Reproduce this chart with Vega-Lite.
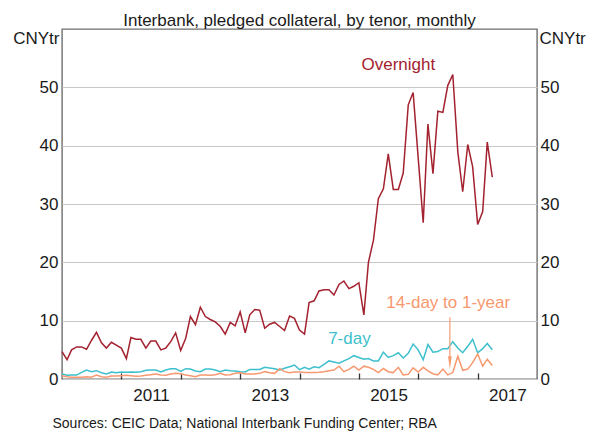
{
  "$schema": "https://vega.github.io/schema/vega-lite/v6.json",
  "width": 475,
  "height": 350,
  "autosize": {"type": "none"},
  "padding": {"left": 62, "top": 29, "right": 62, "bottom": 55},
  "background": "white",
  "config": {"font": "Liberation Sans", "view": {"stroke": "#6f6f6f", "strokeWidth": 1.4}},
  "title": {"text": "Interbank, pledged collateral, by tenor, monthly", "fontSize": 17, "fontWeight": "normal", "color": "#1a1a1a", "baseline": "alphabetic", "offset": -14, "anchor": "middle"},
  "datasets": {
    "series": [
      {"date":"2010-01-01","series":"Overnight","value":4.7},{"date":"2010-02-01","series":"Overnight","value":3.3},{"date":"2010-03-01","series":"Overnight","value":5.0},{"date":"2010-04-01","series":"Overnight","value":5.5},{"date":"2010-05-01","series":"Overnight","value":5.5},{"date":"2010-06-01","series":"Overnight","value":5.1},{"date":"2010-07-01","series":"Overnight","value":6.6},{"date":"2010-08-01","series":"Overnight","value":8.0},{"date":"2010-09-01","series":"Overnight","value":6.2},{"date":"2010-10-01","series":"Overnight","value":5.3},{"date":"2010-11-01","series":"Overnight","value":6.3},{"date":"2010-12-01","series":"Overnight","value":5.8},
      {"date":"2011-01-01","series":"Overnight","value":5.3},{"date":"2011-02-01","series":"Overnight","value":3.5},{"date":"2011-03-01","series":"Overnight","value":7.1},{"date":"2011-04-01","series":"Overnight","value":6.8},{"date":"2011-05-01","series":"Overnight","value":6.8},{"date":"2011-06-01","series":"Overnight","value":5.3},{"date":"2011-07-01","series":"Overnight","value":6.5},{"date":"2011-08-01","series":"Overnight","value":6.5},{"date":"2011-09-01","series":"Overnight","value":5.0},{"date":"2011-10-01","series":"Overnight","value":5.3},{"date":"2011-11-01","series":"Overnight","value":6.4},{"date":"2011-12-01","series":"Overnight","value":7.9},
      {"date":"2012-01-01","series":"Overnight","value":4.9},{"date":"2012-02-01","series":"Overnight","value":7.0},{"date":"2012-03-01","series":"Overnight","value":10.7},{"date":"2012-04-01","series":"Overnight","value":9.3},{"date":"2012-05-01","series":"Overnight","value":12.3},{"date":"2012-06-01","series":"Overnight","value":10.7},{"date":"2012-07-01","series":"Overnight","value":10.2},{"date":"2012-08-01","series":"Overnight","value":9.8},{"date":"2012-09-01","series":"Overnight","value":9.0},{"date":"2012-10-01","series":"Overnight","value":7.7},{"date":"2012-11-01","series":"Overnight","value":9.7},{"date":"2012-12-01","series":"Overnight","value":9.1},
      {"date":"2013-01-01","series":"Overnight","value":11.5},{"date":"2013-02-01","series":"Overnight","value":7.9},{"date":"2013-03-01","series":"Overnight","value":11.0},{"date":"2013-04-01","series":"Overnight","value":11.9},{"date":"2013-05-01","series":"Overnight","value":11.8},{"date":"2013-06-01","series":"Overnight","value":8.7},{"date":"2013-07-01","series":"Overnight","value":9.4},{"date":"2013-08-01","series":"Overnight","value":9.7},{"date":"2013-09-01","series":"Overnight","value":9.0},{"date":"2013-10-01","series":"Overnight","value":8.3},{"date":"2013-11-01","series":"Overnight","value":10.8},{"date":"2013-12-01","series":"Overnight","value":10.4},
      {"date":"2014-01-01","series":"Overnight","value":8.4},{"date":"2014-02-01","series":"Overnight","value":7.7},{"date":"2014-03-01","series":"Overnight","value":13.1},{"date":"2014-04-01","series":"Overnight","value":13.4},{"date":"2014-05-01","series":"Overnight","value":15.1},{"date":"2014-06-01","series":"Overnight","value":15.3},{"date":"2014-07-01","series":"Overnight","value":15.3},{"date":"2014-08-01","series":"Overnight","value":14.4},{"date":"2014-09-01","series":"Overnight","value":16.2},{"date":"2014-10-01","series":"Overnight","value":16.8},{"date":"2014-11-01","series":"Overnight","value":15.5},{"date":"2014-12-01","series":"Overnight","value":15.9},
      {"date":"2015-01-01","series":"Overnight","value":16.5},{"date":"2015-02-01","series":"Overnight","value":11.0},{"date":"2015-03-01","series":"Overnight","value":20.0},{"date":"2015-04-01","series":"Overnight","value":23.8},{"date":"2015-05-01","series":"Overnight","value":30.9},{"date":"2015-06-01","series":"Overnight","value":32.6},{"date":"2015-07-01","series":"Overnight","value":38.6},{"date":"2015-08-01","series":"Overnight","value":32.5},{"date":"2015-09-01","series":"Overnight","value":32.5},{"date":"2015-10-01","series":"Overnight","value":35.3},{"date":"2015-11-01","series":"Overnight","value":47.0},{"date":"2015-12-01","series":"Overnight","value":49.1},
      {"date":"2016-01-01","series":"Overnight","value":38.0},{"date":"2016-02-01","series":"Overnight","value":26.8},{"date":"2016-03-01","series":"Overnight","value":43.7},{"date":"2016-04-01","series":"Overnight","value":35.2},{"date":"2016-05-01","series":"Overnight","value":45.9},{"date":"2016-06-01","series":"Overnight","value":45.7},{"date":"2016-07-01","series":"Overnight","value":50.3},{"date":"2016-08-01","series":"Overnight","value":52.2},{"date":"2016-09-01","series":"Overnight","value":38.9},{"date":"2016-10-01","series":"Overnight","value":32.1},{"date":"2016-11-01","series":"Overnight","value":40.2},{"date":"2016-12-01","series":"Overnight","value":36.4},
      {"date":"2017-01-01","series":"Overnight","value":26.5},{"date":"2017-02-01","series":"Overnight","value":28.7},{"date":"2017-03-01","series":"Overnight","value":40.6},{"date":"2017-04-01","series":"Overnight","value":34.6},

      {"date":"2010-01-01","series":"7-day","value":0.86},{"date":"2010-02-01","series":"7-day","value":0.63},{"date":"2010-03-01","series":"7-day","value":0.68},{"date":"2010-04-01","series":"7-day","value":0.68},{"date":"2010-05-01","series":"7-day","value":1.14},{"date":"2010-06-01","series":"7-day","value":1.54},{"date":"2010-07-01","series":"7-day","value":1.26},{"date":"2010-08-01","series":"7-day","value":1.43},{"date":"2010-09-01","series":"7-day","value":1.08},{"date":"2010-10-01","series":"7-day","value":0.86},{"date":"2010-11-01","series":"7-day","value":1.2},{"date":"2010-12-01","series":"7-day","value":1.08},
      {"date":"2011-01-01","series":"7-day","value":1.2},{"date":"2011-02-01","series":"7-day","value":1.14},{"date":"2011-03-01","series":"7-day","value":1.2},{"date":"2011-04-01","series":"7-day","value":1.14},{"date":"2011-05-01","series":"7-day","value":1.26},{"date":"2011-06-01","series":"7-day","value":1.48},{"date":"2011-07-01","series":"7-day","value":1.54},{"date":"2011-08-01","series":"7-day","value":1.54},{"date":"2011-09-01","series":"7-day","value":1.2},{"date":"2011-10-01","series":"7-day","value":1.54},{"date":"2011-11-01","series":"7-day","value":1.77},{"date":"2011-12-01","series":"7-day","value":1.77},
      {"date":"2012-01-01","series":"7-day","value":1.3},{"date":"2012-02-01","series":"7-day","value":1.77},{"date":"2012-03-01","series":"7-day","value":1.7},{"date":"2012-04-01","series":"7-day","value":1.37},{"date":"2012-05-01","series":"7-day","value":1.26},{"date":"2012-06-01","series":"7-day","value":1.7},{"date":"2012-07-01","series":"7-day","value":1.7},{"date":"2012-08-01","series":"7-day","value":1.54},{"date":"2012-09-01","series":"7-day","value":1.26},{"date":"2012-10-01","series":"7-day","value":1.54},{"date":"2012-11-01","series":"7-day","value":1.43},{"date":"2012-12-01","series":"7-day","value":1.37},
      {"date":"2013-01-01","series":"7-day","value":1.26},{"date":"2013-02-01","series":"7-day","value":1.2},{"date":"2013-03-01","series":"7-day","value":1.65},{"date":"2013-04-01","series":"7-day","value":1.65},{"date":"2013-05-01","series":"7-day","value":1.65},{"date":"2013-06-01","series":"7-day","value":2.0},{"date":"2013-07-01","series":"7-day","value":1.9},{"date":"2013-08-01","series":"7-day","value":1.77},{"date":"2013-09-01","series":"7-day","value":1.54},{"date":"2013-10-01","series":"7-day","value":1.83},{"date":"2013-11-01","series":"7-day","value":2.1},{"date":"2013-12-01","series":"7-day","value":2.4},
      {"date":"2014-01-01","series":"7-day","value":1.6},{"date":"2014-02-01","series":"7-day","value":2.0},{"date":"2014-03-01","series":"7-day","value":1.7},{"date":"2014-04-01","series":"7-day","value":2.1},{"date":"2014-05-01","series":"7-day","value":1.95},{"date":"2014-06-01","series":"7-day","value":2.5},{"date":"2014-07-01","series":"7-day","value":3.1},{"date":"2014-08-01","series":"7-day","value":2.9},{"date":"2014-09-01","series":"7-day","value":2.7},{"date":"2014-10-01","series":"7-day","value":3.1},{"date":"2014-11-01","series":"7-day","value":3.5},{"date":"2014-12-01","series":"7-day","value":4.0},
      {"date":"2015-01-01","series":"7-day","value":3.7},{"date":"2015-02-01","series":"7-day","value":3.4},{"date":"2015-03-01","series":"7-day","value":3.5},{"date":"2015-04-01","series":"7-day","value":3.1},{"date":"2015-05-01","series":"7-day","value":3.1},{"date":"2015-06-01","series":"7-day","value":4.6},{"date":"2015-07-01","series":"7-day","value":3.7},{"date":"2015-08-01","series":"7-day","value":4.0},{"date":"2015-09-01","series":"7-day","value":4.5},{"date":"2015-10-01","series":"7-day","value":3.6},{"date":"2015-11-01","series":"7-day","value":4.4},{"date":"2015-12-01","series":"7-day","value":6.0},
      {"date":"2016-01-01","series":"7-day","value":5.0},{"date":"2016-02-01","series":"7-day","value":3.3},{"date":"2016-03-01","series":"7-day","value":5.9},{"date":"2016-04-01","series":"7-day","value":4.6},{"date":"2016-05-01","series":"7-day","value":4.7},{"date":"2016-06-01","series":"7-day","value":5.2},{"date":"2016-07-01","series":"7-day","value":5.2},{"date":"2016-08-01","series":"7-day","value":6.4},{"date":"2016-09-01","series":"7-day","value":5.3},{"date":"2016-10-01","series":"7-day","value":4.5},{"date":"2016-11-01","series":"7-day","value":5.6},{"date":"2016-12-01","series":"7-day","value":6.8},
      {"date":"2017-01-01","series":"7-day","value":4.5},{"date":"2017-02-01","series":"7-day","value":5.2},{"date":"2017-03-01","series":"7-day","value":6.1},{"date":"2017-04-01","series":"7-day","value":5.0},

      {"date":"2010-01-01","series":"14-day to 1-year","value":0.57},{"date":"2010-02-01","series":"14-day to 1-year","value":0.4},{"date":"2010-03-01","series":"14-day to 1-year","value":0.29},{"date":"2010-04-01","series":"14-day to 1-year","value":0.29},{"date":"2010-05-01","series":"14-day to 1-year","value":0.29},{"date":"2010-06-01","series":"14-day to 1-year","value":0.4},{"date":"2010-07-01","series":"14-day to 1-year","value":0.29},{"date":"2010-08-01","series":"14-day to 1-year","value":0.68},{"date":"2010-09-01","series":"14-day to 1-year","value":0.4},{"date":"2010-10-01","series":"14-day to 1-year","value":0.29},{"date":"2010-11-01","series":"14-day to 1-year","value":0.51},{"date":"2010-12-01","series":"14-day to 1-year","value":0.51},
      {"date":"2011-01-01","series":"14-day to 1-year","value":0.57},{"date":"2011-02-01","series":"14-day to 1-year","value":0.63},{"date":"2011-03-01","series":"14-day to 1-year","value":0.57},{"date":"2011-04-01","series":"14-day to 1-year","value":0.46},{"date":"2011-05-01","series":"14-day to 1-year","value":0.51},{"date":"2011-06-01","series":"14-day to 1-year","value":0.63},{"date":"2011-07-01","series":"14-day to 1-year","value":0.74},{"date":"2011-08-01","series":"14-day to 1-year","value":0.86},{"date":"2011-09-01","series":"14-day to 1-year","value":0.68},{"date":"2011-10-01","series":"14-day to 1-year","value":0.63},{"date":"2011-11-01","series":"14-day to 1-year","value":0.86},{"date":"2011-12-01","series":"14-day to 1-year","value":0.97},
      {"date":"2012-01-01","series":"14-day to 1-year","value":0.9},{"date":"2012-02-01","series":"14-day to 1-year","value":0.68},{"date":"2012-03-01","series":"14-day to 1-year","value":0.57},{"date":"2012-04-01","series":"14-day to 1-year","value":0.4},{"date":"2012-05-01","series":"14-day to 1-year","value":0.68},{"date":"2012-06-01","series":"14-day to 1-year","value":0.68},{"date":"2012-07-01","series":"14-day to 1-year","value":0.63},{"date":"2012-08-01","series":"14-day to 1-year","value":0.74},{"date":"2012-09-01","series":"14-day to 1-year","value":0.97},{"date":"2012-10-01","series":"14-day to 1-year","value":0.68},{"date":"2012-11-01","series":"14-day to 1-year","value":0.74},{"date":"2012-12-01","series":"14-day to 1-year","value":0.97},
      {"date":"2013-01-01","series":"14-day to 1-year","value":1.08},{"date":"2013-02-01","series":"14-day to 1-year","value":0.86},{"date":"2013-03-01","series":"14-day to 1-year","value":0.86},{"date":"2013-04-01","series":"14-day to 1-year","value":0.86},{"date":"2013-05-01","series":"14-day to 1-year","value":0.97},{"date":"2013-06-01","series":"14-day to 1-year","value":1.26},{"date":"2013-07-01","series":"14-day to 1-year","value":1.08},{"date":"2013-08-01","series":"14-day to 1-year","value":0.97},{"date":"2013-09-01","series":"14-day to 1-year","value":1.77},{"date":"2013-10-01","series":"14-day to 1-year","value":1.26},{"date":"2013-11-01","series":"14-day to 1-year","value":1.08},{"date":"2013-12-01","series":"14-day to 1-year","value":1.2},
      {"date":"2014-01-01","series":"14-day to 1-year","value":1.2},{"date":"2014-02-01","series":"14-day to 1-year","value":1.1},{"date":"2014-03-01","series":"14-day to 1-year","value":1.1},{"date":"2014-04-01","series":"14-day to 1-year","value":1.1},{"date":"2014-05-01","series":"14-day to 1-year","value":1.15},{"date":"2014-06-01","series":"14-day to 1-year","value":1.25},{"date":"2014-07-01","series":"14-day to 1-year","value":1.4},{"date":"2014-08-01","series":"14-day to 1-year","value":1.54},{"date":"2014-09-01","series":"14-day to 1-year","value":2.2},{"date":"2014-10-01","series":"14-day to 1-year","value":1.25},{"date":"2014-11-01","series":"14-day to 1-year","value":1.65},{"date":"2014-12-01","series":"14-day to 1-year","value":2.2},
      {"date":"2015-01-01","series":"14-day to 1-year","value":1.54},{"date":"2015-02-01","series":"14-day to 1-year","value":2.2},{"date":"2015-03-01","series":"14-day to 1-year","value":2.0},{"date":"2015-04-01","series":"14-day to 1-year","value":1.65},{"date":"2015-05-01","series":"14-day to 1-year","value":1.1},{"date":"2015-06-01","series":"14-day to 1-year","value":1.8},{"date":"2015-07-01","series":"14-day to 1-year","value":1.25},{"date":"2015-08-01","series":"14-day to 1-year","value":1.1},{"date":"2015-09-01","series":"14-day to 1-year","value":2.0},{"date":"2015-10-01","series":"14-day to 1-year","value":0.7},{"date":"2015-11-01","series":"14-day to 1-year","value":0.8},{"date":"2015-12-01","series":"14-day to 1-year","value":1.9},
      {"date":"2016-01-01","series":"14-day to 1-year","value":1.2},{"date":"2016-02-01","series":"14-day to 1-year","value":2.0},{"date":"2016-03-01","series":"14-day to 1-year","value":1.4},{"date":"2016-04-01","series":"14-day to 1-year","value":0.9},{"date":"2016-05-01","series":"14-day to 1-year","value":0.7},{"date":"2016-06-01","series":"14-day to 1-year","value":1.7},{"date":"2016-07-01","series":"14-day to 1-year","value":0.7},{"date":"2016-08-01","series":"14-day to 1-year","value":1.1},{"date":"2016-09-01","series":"14-day to 1-year","value":3.9},{"date":"2016-10-01","series":"14-day to 1-year","value":1.5},{"date":"2016-11-01","series":"14-day to 1-year","value":1.7},{"date":"2016-12-01","series":"14-day to 1-year","value":2.8},
      {"date":"2017-01-01","series":"14-day to 1-year","value":4.3},{"date":"2017-02-01","series":"14-day to 1-year","value":2.2},{"date":"2017-03-01","series":"14-day to 1-year","value":3.4},{"date":"2017-04-01","series":"14-day to 1-year","value":2.3}
    ],
    "notes": [
      {"date":"2015-09-01","value":53.8,"series":"Overnight","label":"Overnight"},
      {"date":"2014-11-04","value":6.93,"series":"7-day","label":"7-day"},
      {"date":"2016-07-04","value":13.1,"series":"14-day to 1-year","label":"14-day to 1-year"}
    ],
    "arrow": [
      {"date":"2016-07-14","start":10.6,"end":3.6,"tip":2.8}
    ]
  },
  "encoding": {
    "x": {
      "field": "date", "type": "temporal",
      "scale": {"type": "utc", "domain": [{"year":2010,"month":1,"date":1,"utc":true},{"year":2018,"month":1,"date":1,"utc":true}]},
      "axis": {
        "values": [{"year":2011,"month":1,"date":1,"utc":true},{"year":2012,"month":1,"date":1,"utc":true},{"year":2013,"month":1,"date":1,"utc":true},{"year":2014,"month":1,"date":1,"utc":true},{"year":2015,"month":1,"date":1,"utc":true},{"year":2016,"month":1,"date":1,"utc":true},{"year":2017,"month":1,"date":1,"utc":true}],
        "format": "%Y",
        "labelExpr": "toNumber(datum.label) % 2 == 1 ? datum.label : ''",
        "labelOffset": 29.7,
        "labelFlush": false,
        "labelOverlap": false,
        "ticks": true, "tickSize": -6, "tickColor": "#333333", "tickWidth": 1.3,
        "domain": false, "grid": false,
        "labelFontSize": 17, "labelColor": "#1a1a1a", "labelPadding": 14,
        "title": "Sources: CEIC Data; National Interbank Funding Center; RBA",
        "titleFontSize": 14, "titleFontWeight": "normal", "titleColor": "#1a1a1a",
        "titleAlign": "left", "titleAnchor": "start", "titleX": -10, "titleY": 44, "titleBaseline": "middle"
      }
    }
  },
  "layer": [
    {
      "layer": [
        {
          "data": {"name": "series"},
          "mark": {"type": "line", "strokeWidth": 1.5},
          "encoding": {
            "y": {"field": "value", "type": "quantitative", "scale": {"domain": [0, 60]},
              "axis": {"orient": "left", "values": [0,10,20,30,40,50], "grid": true, "gridColor": "#c8c8c8", "gridWidth": 1, "domain": false, "ticks": false,
                "labelPadding": 4, "labelFontSize": 17, "labelColor": "#1a1a1a",
                "title": "CNYtr", "titleAngle": 0, "titleAlign": "right", "titleBaseline": "middle", "titleX": -3, "titleY": 9,
                "titleFontSize": 17, "titleFontWeight": "normal", "titleColor": "#1a1a1a"}},
            "color": {"field": "series", "type": "nominal", "scale": {"domain": ["Overnight","7-day","14-day to 1-year"], "range": ["#a3222f","#3dbfcd","#f7986f"]}, "legend": null},
            "order": {"field": "date"}
          }
        },
        {
          "data": {"name": "notes"},
          "mark": {"type": "text", "fontSize": 17, "align": "center", "baseline": "middle"},
          "encoding": {
            "y": {"field": "value", "type": "quantitative"},
            "text": {"field": "label"},
            "color": {"field": "series", "type": "nominal", "legend": null}
          }
        },
        {
          "data": {"name": "arrow"},
          "mark": {"type": "rule", "color": "#f7a37f", "strokeWidth": 1.3},
          "encoding": {
            "y": {"field": "start", "type": "quantitative"},
            "y2": {"field": "end"}
          }
        },
        {
          "data": {"name": "arrow"},
          "mark": {"type": "point", "shape": "M-0.28,-1L0.28,-1L0,1Z", "size": 169, "filled": true, "color": "#f7986f", "opacity": 1},
          "encoding": {
            "y": {"field": "tip", "type": "quantitative"}
          }
        }
      ]
    },
    {
      "data": {"name": "series"},
      "mark": {"type": "point", "opacity": 0},
      "encoding": {
        "y": {"field": "value", "type": "quantitative", "scale": {"domain": [0, 60]},
          "axis": {"orient": "right", "values": [0,10,20,30,40,50], "grid": false, "domain": false, "ticks": false,
            "labelPadding": 3, "labelFontSize": 17, "labelColor": "#1a1a1a",
            "title": "CNYtr", "titleAngle": 0, "titleAlign": "left", "titleBaseline": "middle", "titleX": 2, "titleY": 9,
            "titleFontSize": 17, "titleFontWeight": "normal", "titleColor": "#1a1a1a"}}
      }
    }
  ],
  "resolve": {"scale": {"y": "independent"}}
}
